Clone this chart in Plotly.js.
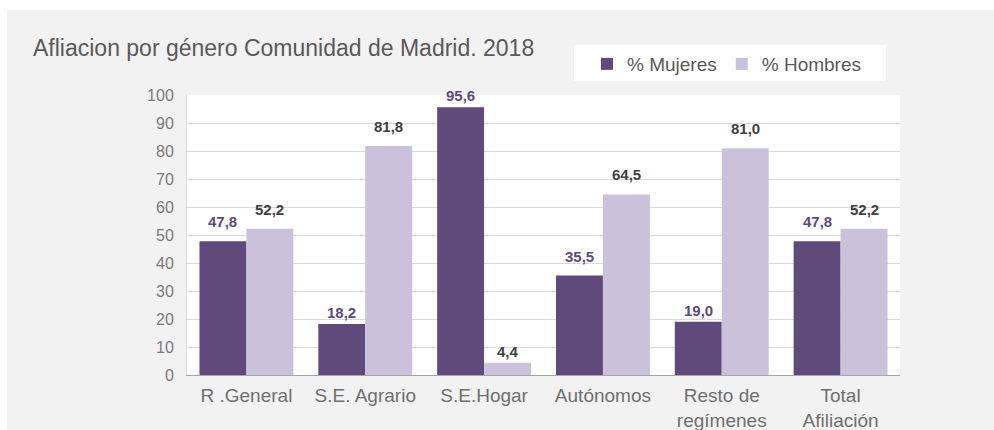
<!DOCTYPE html>
<html>
<head>
<meta charset="utf-8">
<script src="https://cdn.plot.ly/plotly-3.0.1.min.js"></script>
<style>html,body{margin:0;padding:0;background:#fff;}#chart{width:994px;height:430px;}</style>
</head>
<body>
<div id="chart"></div>
<script>
const categories = ["R .General", "S.E. Agrario", "S.E.Hogar", "Autónomos", "Resto de<br>regímenes", "Total<br>Afiliación"];
const mujeres = [47.8, 18.2, 95.6, 35.5, 19.0, 47.8];
const hombres = [52.2, 81.8, 4.4, 64.5, 81.0, 52.2];
const seriesNames = ["% Mujeres", "% Hombres"];
const titleText = "Afliacion por género Comunidad de Madrid. 2018";

const FONT = "Liberation Sans, Arial, sans-serif";
const W = 994, H = 430;
const L = 187, R = 94, T = 95, B = 55;
const pw = W - L - R, ph = H - T - B;
const px = x => (x - L) / pw;
const py = y => (H - B - y) / ph;
const fmt = v => v.toFixed(1).replace(".", ",");
// labels of very short / very tall bars sit closer to the bar top
const labelShift = v => (v < 20 || v > 90) ? 1 : 9;

const traces = [
  {
    type: "bar", name: seriesNames[0], x: categories, y: mujeres,
    marker: {color: "#604a7b"}, hoverinfo: "skip"
  },
  {
    type: "bar", name: seriesNames[1], x: categories, y: hombres,
    marker: {color: "#ccc1da"}, hoverinfo: "skip"
  }
];

const BARGAP = 0.21;
const halfBarPx = (pw / categories.length) * (1 - BARGAP) / 4;
const annotations = [];
categories.forEach((c, i) => {
  annotations.push({
    x: c, y: mujeres[i], xref: "x", yref: "y", text: fmt(mujeres[i]),
    showarrow: false, xshift: -halfBarPx, yanchor: "bottom", yshift: labelShift(mujeres[i]),
    font: {family: FONT, size: 15, color: "#604a7b", weight: "bold"}
  });
  annotations.push({
    x: c, y: hombres[i], xref: "x", yref: "y", text: fmt(hombres[i]),
    showarrow: false, xshift: halfBarPx, yanchor: "bottom", yshift: labelShift(hombres[i]),
    font: {family: FONT, size: 15, color: "#404040", weight: "bold"}
  });
});

const layout = {
  width: W, height: H,
  margin: {l: L, r: R, t: T, b: B},
  paper_bgcolor: "#ffffff",
  plot_bgcolor: "#ffffff",
  separators: ",.",
  barmode: "group", bargap: BARGAP, bargroupgap: 0,
  font: {family: FONT, color: "#595959"},
  title: {
    text: titleText, xref: "container", yref: "container",
    x: 33 / W, xanchor: "left", y: 1 - 48 / H, yanchor: "middle",
    font: {family: FONT, size: 23, color: "#595959"}
  },
  xaxis: {
    showgrid: false, showline: true, linecolor: "#a6a6a6", linewidth: 1,
    ticks: "", tickfont: {family: FONT, size: 19, color: "#6f6f6f"},
    ticklabelstandoff: 3, fixedrange: true
  },
  yaxis: {
    range: [0, 100], dtick: 10, tick0: 0,
    showgrid: true, gridcolor: "#d9d9d9", gridwidth: 1,
    showline: true, linecolor: "#d9d9d9", zeroline: false,
    ticks: "", tickfont: {family: FONT, size: 16, color: "#7a7a7a"},
    ticklabelstandoff: 9, fixedrange: true
  },
  showlegend: true,
  legend: {
    orientation: "h", x: px(587), xanchor: "left", y: py(45), yanchor: "top",
    bgcolor: "rgba(0,0,0,0)", borderwidth: 0,
    font: {family: FONT, size: 19, color: "#595959"},
    traceorder: "normal"
  },
  annotations: annotations,
  shapes: [
    {type: "rect", xref: "paper", yref: "paper", layer: "below",
     x0: px(7), x1: px(W + 5), y0: py(H + 5), y1: py(10),
     fillcolor: "#f2f2f2", line: {width: 0}},
    {type: "rect", xref: "paper", yref: "paper", layer: "below",
     x0: 0, x1: 1, y0: 0, y1: 1,
     fillcolor: "#ffffff", line: {width: 0}},
    {type: "rect", xref: "paper", yref: "paper", layer: "below",
     x0: px(574), x1: px(886), y0: py(81), y1: py(45),
     fillcolor: "#ffffff", line: {width: 0}}
  ]
};

Plotly.newPlot("chart", traces, layout, {displayModeBar: false, staticPlot: true});
</script>
</body>
</html>
